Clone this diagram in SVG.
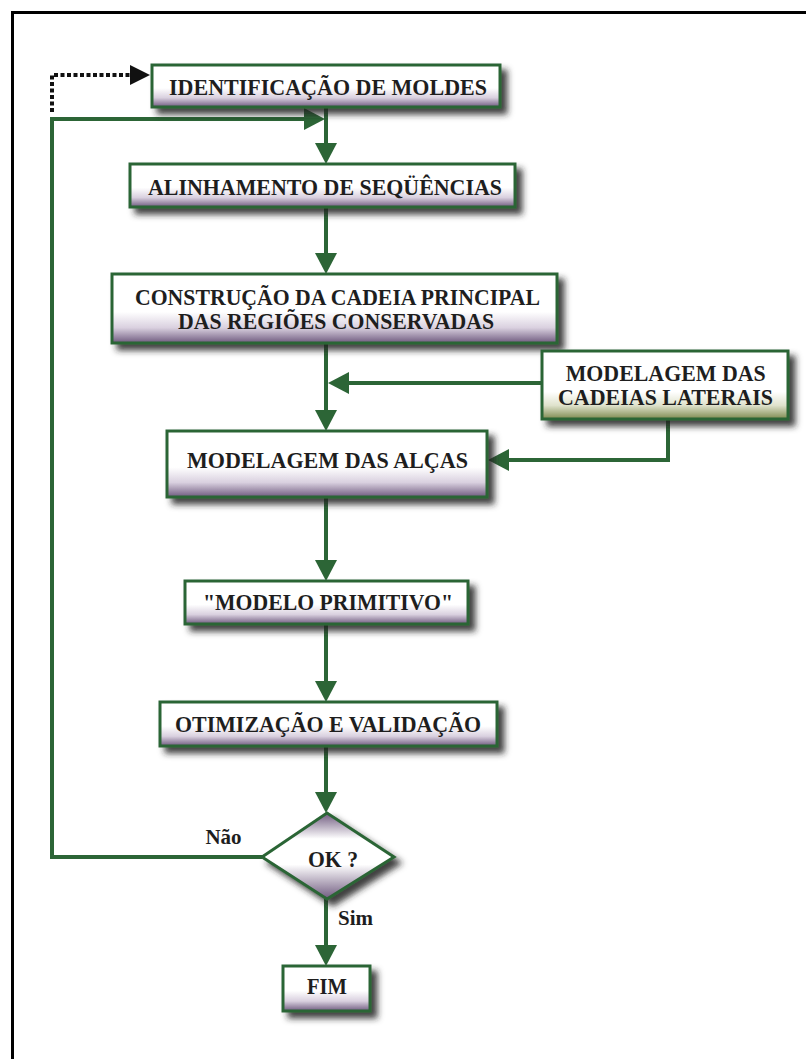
<svg xmlns="http://www.w3.org/2000/svg" width="806" height="1059" viewBox="0 0 806 1059">
<style>
.box{stroke:#2c6536;stroke-width:3;filter:url(#sh)}
.pur{fill:url(#gp)}
.grn{fill:url(#gg)}
.lbl{font-family:"Liberation Serif","Times New Roman",serif;font-weight:bold;font-size:23px;fill:#1e1e1e;text-anchor:middle}
.side{font-family:"Liberation Serif","Times New Roman",serif;font-weight:bold;font-size:23px;fill:#1e1e1e;text-anchor:middle}
.el{font-family:"Liberation Serif","Times New Roman",serif;font-weight:bold;font-size:21px;fill:#1e1e1e;text-anchor:middle}
.con{fill:none;stroke:#2c6536;stroke-width:4;marker-end:url(#ah)}
.dot{fill:none;stroke:#111;stroke-width:4;stroke-dasharray:4 2.5;marker-end:url(#ahk)}
</style>
<defs>
<linearGradient id="gp" x1="0" y1="0" x2="0" y2="1">
<stop offset="0" stop-color="#ffffff"/>
<stop offset="0.55" stop-color="#ffffff"/>
<stop offset="0.78" stop-color="#d9d0df"/>
<stop offset="1" stop-color="#6f5a7f"/>
</linearGradient>
<linearGradient id="gg" x1="0" y1="0" x2="0" y2="1">
<stop offset="0" stop-color="#ffffff"/>
<stop offset="0.6" stop-color="#ffffff"/>
<stop offset="0.8" stop-color="#dfe2cc"/>
<stop offset="1" stop-color="#7d8a4f"/>
</linearGradient>
<linearGradient id="gd" x1="0" y1="0" x2="0" y2="1">
<stop offset="0" stop-color="#6f5a7f"/>
<stop offset="0.3" stop-color="#ffffff"/>
<stop offset="0.6" stop-color="#ffffff"/>
<stop offset="1" stop-color="#6f5a7f"/>
</linearGradient>
<filter id="sh" x="-10%" y="-20%" width="130%" height="160%">
<feGaussianBlur in="SourceAlpha" stdDeviation="3"/>
<feOffset dx="6" dy="6" result="b"/>
<feFlood flood-color="#222" flood-opacity="0.85"/>
<feComposite in2="b" operator="in"/>
<feMerge><feMergeNode/><feMergeNode in="SourceGraphic"/></feMerge>
</filter>
<marker id="ah" markerUnits="userSpaceOnUse" markerWidth="22" markerHeight="22" refX="15" refY="11" orient="auto" viewBox="0 0 22 22">
<path d="M0,0 L21,11 L0,22 z" fill="#2c6536"/>
</marker>
<marker id="ahk" markerUnits="userSpaceOnUse" markerWidth="22" markerHeight="20" refX="14" refY="10" orient="auto" viewBox="0 0 22 20">
<path d="M0,0 L20,10 L0,20 z" fill="#111"/>
</marker>
</defs>
<rect x="12.5" y="12.5" width="900" height="1100" fill="none" stroke="#000" stroke-width="3"/>
<g id="connectors">
<path class="con" d="M326,107 V158"/>
<path class="con" d="M326,207 V268"/>
<path class="con" d="M326,343 V425"/>
<path class="con" d="M326,497 V575"/>
<path class="con" d="M326,624 V696"/>
<path class="con" d="M326,746 V807"/>
<path class="con" d="M326,899 V960"/>
<path class="con" d="M542,383 H334"/>
<path class="con" d="M668,419 V460 H494"/>
<path class="con" d="M262,857 H52 V119 H319"/>
<path class="dot" d="M52,112 V75 H144"/>
</g>
<g id="n-identificacao">
<rect class="box pur" x="152" y="65" width="348" height="42"/>
<text class="lbl" x="328" y="95" textLength="318" lengthAdjust="spacingAndGlyphs">IDENTIFICAÇÃO DE MOLDES</text>
</g>
<g id="n-alinhamento">
<rect class="box pur" x="130" y="164" width="385" height="43"/>
<text class="lbl" x="325" y="195" textLength="354" lengthAdjust="spacingAndGlyphs">ALINHAMENTO DE SEQÜÊNCIAS</text>
</g>
<g id="n-construcao">
<rect class="box pur" x="112" y="274" width="445" height="69"/>
<text class="lbl" x="337.5" y="305" textLength="405" lengthAdjust="spacingAndGlyphs">CONSTRUÇÃO DA CADEIA PRINCIPAL</text>
<text class="lbl" x="336" y="329" textLength="316" lengthAdjust="spacingAndGlyphs">DAS REGIÕES CONSERVADAS</text>
</g>
<g id="n-laterais">
<rect class="box grn" x="542" y="351" width="246" height="68"/>
<text class="side" x="665.7" y="381" textLength="200" lengthAdjust="spacingAndGlyphs">MODELAGEM DAS</text>
<text class="side" x="665.5" y="405" textLength="215" lengthAdjust="spacingAndGlyphs">CADEIAS LATERAIS</text>
</g>
<g id="n-alcas">
<rect class="box pur" x="167" y="431" width="320" height="66"/>
<text class="lbl" x="327.5" y="468" textLength="281" lengthAdjust="spacingAndGlyphs">MODELAGEM DAS ALÇAS</text>
</g>
<g id="n-primitivo">
<rect class="box pur" x="185" y="581" width="283" height="43"/>
<text class="lbl" x="328" y="610" textLength="250" lengthAdjust="spacingAndGlyphs">"MODELO PRIMITIVO"</text>
</g>
<g id="n-otimizacao">
<rect class="box pur" x="160" y="702" width="337" height="44"/>
<text class="lbl" x="328" y="732" textLength="306" lengthAdjust="spacingAndGlyphs">OTIMIZAÇÃO E VALIDAÇÃO</text>
</g>
<g id="n-ok">
<polygon class="box" fill="url(#gd)" points="262,857 327,813 394,857 327,899"/>
<text class="lbl" x="333" y="867" textLength="50" lengthAdjust="spacingAndGlyphs">OK ?</text>
</g>
<g id="n-fim">
<rect class="box pur" x="283" y="966" width="87" height="45"/>
<text class="lbl" x="327" y="994" textLength="40" lengthAdjust="spacingAndGlyphs">FIM</text>
</g>
<g id="edge-labels">
<text class="el" x="223.5" y="844">Não</text>
<text class="el" x="355.5" y="925">Sim</text>
</g>
</svg>
